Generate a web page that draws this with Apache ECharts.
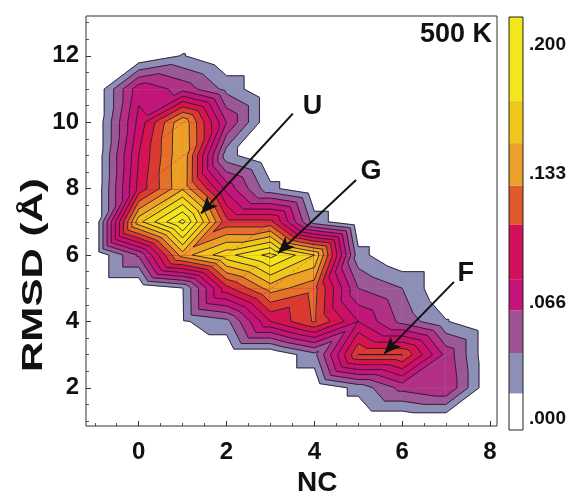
<!DOCTYPE html>
<html><head><meta charset="utf-8">
<script src="https://cdn.jsdelivr.net/npm/echarts@6/dist/echarts.min.js"></script>
<style>html,body{margin:0;padding:0;background:#fff}#c{width:569px;height:498px}</style>
</head><body><div id="c"></div>
<script>
// grid coordinates
const ncValues = [-1, 0, 1, 2, 3, 4, 5, 6, 7, 8];
const rmsdValues = [1, 2, 3, 4, 5, 6, 7, 8, 9, 10, 11, 12, 13];
// population density, one row per RMSD value, columns follow ncValues
const rmsd1  = [0, 0, 0, 0, 0, 0, 0, 0, 0, 0];
const rmsd2  = [0, 0, 0, 0, 0, 0, 0.02, 0.05, 0.06, 0];
const rmsd3  = [0, 0, 0, 0, 0, 0.025, 0.12, 0.12, 0.055, 0];
const rmsd4  = [0, 0, 0.013, 0.025, 0.09, 0.122, 0.075, 0.04, 0.016, 0];
const rmsd5  = [0, 0, 0.014, 0.10, 0.142, 0.125, 0.045, 0.03, 0, 0];
const rmsd6  = [0, 0.047, 0.143, 0.175, 0.20, 0.165, 0.02, 0, 0, 0];
const rmsd7  = [0, 0.16, 0.215, 0.11, 0.11, 0.022, 0, 0, 0, 0];
const rmsd8  = [0, 0.095, 0.148, 0.07, 0.019, 0, 0, 0, 0, 0];
const rmsd9  = [0, 0.09, 0.149, 0.02, 0, 0, 0, 0, 0, 0];
const rmsd10 = [0, 0.08, 0.148, 0.06, 0, 0, 0, 0, 0, 0];
const rmsd11 = [0, 0.07, 0.055, 0.025, 0, 0, 0, 0, 0, 0];
const rmsd12 = [0, 0, 0.016, 0, 0, 0, 0, 0, 0, 0];
const rmsd13 = [0, 0, 0, 0, 0, 0, 0, 0, 0, 0];
// contour levels and the fill colour above each level
const contourLevels = [0.015, 0.03, 0.045, 0.06, 0.075, 0.09, 0.105, 0.12, 0.135, 0.15, 0.165, 0.18, 0.195, 0.21];
const levelColors = ['#8d8fb7', '#9b5896', '#b22f86', '#c2157a', '#cd0f68', '#d5134f', '#dc3a31', '#e5702a', '#eca126', '#f1c61c', '#f2d81a', '#f3e41c', '#f4ea22', '#f6f036'];
// colour bar
const colorbarBounds = [0, 0.019, 0.040, 0.062, 0.078, 0.1065, 0.127, 0.149, 0.171, 0.2145];
const colorbarColors = ['#ffffff', '#8d8fb7', '#9e5394', '#c4147a', '#d20f5a', '#e05a2a', '#eaa02a', '#f0c81c', '#f3e61a'];
const colorbarTicks = [0, 0.066, 0.133, 0.200];
const colorbarTickLabels = ['.000', '.066', '.133', '.200'];
// axes ticks
const xTicks = [0, 2, 4, 6, 8];
const xMinorTicks = [-1, -0.5, 0.5, 1, 1.5, 2.5, 3, 3.5, 4.5, 5, 5.5, 6.5, 7, 7.5];
const yTicks = [2, 4, 6, 8, 10, 12];
const yMinorTicks = [1, 1.5, 2.5, 3, 3.5, 4.5, 5, 5.5, 6.5, 7, 7.5, 8.5, 9, 9.5, 10.5, 11, 11.5, 12.5, 13];
// annotations: [tailX, tailY, headX, headY], label positions
const arrows = [[3.51, 10.26, 1.42, 7.25], [4.95, 8.26, 3.17, 6.05], [7.18, 5.19, 5.59, 3.03]];
const arrowLabels = [[3.96, 10.47, 'U'], [5.29, 8.5, 'G'], [7.45, 5.45, 'F']];

const density = [rmsd1, rmsd2, rmsd3, rmsd4, rmsd5, rmsd6, rmsd7, rmsd8, rmsd9, rmsd10, rmsd11, rmsd12, rmsd13];

// triangles of the grid
const triangles = [];
for (let j = 0; j < rmsdValues.length - 1; j++) {
  for (let i = 0; i < ncValues.length - 1; i++) {
    triangles.push([i, j, 0]);
    triangles.push([i, j, 1]);
  }
}
function triCorners(i, j, t) {
  return t === 0 ? [[i, j], [i + 1, j], [i + 1, j + 1]] : [[i, j], [i + 1, j + 1], [i, j + 1]];
}
function clipAbove(pts, vals, L) {
  const out = [];
  for (let a = 0; a < pts.length; a++) {
    const b = (a + 1) % pts.length;
    const va = vals[a], vb = vals[b];
    if (va >= L) out.push(pts[a]);
    if ((va >= L) !== (vb >= L)) {
      const t = (L - va) / (vb - va);
      out.push([pts[a][0] + (pts[b][0] - pts[a][0]) * t, pts[a][1] + (pts[b][1] - pts[a][1]) * t]);
    }
  }
  return out;
}
function prep(params, api) {
  const i = api.value(0), j = api.value(1), t = api.value(2);
  const c = triCorners(i, j, t);
  const pts = c.map(p => api.coord([ncValues[p[0]], rmsdValues[p[1]]]));
  const vals = c.map(p => density[p[1]][p[0]]);
  return {pts, vals};
}
function renderFill(params, api) {
  const {pts, vals} = prep(params, api);
  const children = [];
  contourLevels.forEach((L, k) => {
    const poly = clipAbove(pts, vals, L);
    if (poly.length >= 3) {
      children.push({type: 'polygon', shape: {points: poly},
        style: {fill: levelColors[k], stroke: levelColors[k], lineWidth: 0.8}});
    }
  });
  return {type: 'group', children};
}
function renderLines(params, api) {
  const {pts, vals} = prep(params, api);
  const children = [];
  contourLevels.forEach((L) => {
    const seg = [];
    for (let a = 0; a < 3; a++) {
      const b = (a + 1) % 3;
      if ((vals[a] >= L) !== (vals[b] >= L)) {
        const t = (L - vals[a]) / (vals[b] - vals[a]);
        seg.push([pts[a][0] + (pts[b][0] - pts[a][0]) * t, pts[a][1] + (pts[b][1] - pts[a][1]) * t]);
      }
    }
    if (seg.length === 2) {
      children.push({type: 'line', shape: {x1: seg[0][0], y1: seg[0][1], x2: seg[1][0], y2: seg[1][1]},
        style: {stroke: '#2a1830', lineWidth: 0.9}});
    }
  });
  return {type: 'group', children};
}

const FONT = 'Liberation Sans';
const chart = echarts.init(document.getElementById('c'), null, {renderer: 'canvas'});

const colorbarSeries = colorbarColors.map((col, k) => ({
  type: 'bar', xAxisIndex: 1, yAxisIndex: 1, stack: 'cb', barWidth: '100%',
  data: [colorbarBounds[k + 1] - colorbarBounds[k]], itemStyle: {color: col}, silent: true, animation: false
}));

chart.setOption({
  animation: false,
  backgroundColor: '#fff',
  grid: [
    {left: 86, top: 16, width: 411, height: 410, show: true, z: 10, borderColor: '#333', borderWidth: 1, backgroundColor: 'transparent'},
    {left: 509, top: 17, width: 14, height: 413, show: true, z: 10, borderColor: '#222', borderWidth: 1, backgroundColor: 'transparent'}
  ],
  xAxis: [
    {type: 'value', gridIndex: 0, min: -1.2, max: 8.16, splitLine: {show: false},
     axisLine: {show: false, onZero: false},
     axisTick: {inside: true, length: 5, customValues: xTicks, lineStyle: {color: '#333'}},
     axisLabel: {customValues: xTicks, margin: 14, fontFamily: FONT, fontWeight: 'bold', fontSize: 24, color: '#111'}},
    {type: 'category', gridIndex: 1, data: ['c'], show: false},
    {type: 'value', gridIndex: 0, min: -1.2, max: 8.16, position: 'bottom', splitLine: {show: false},
     axisLine: {show: false, onZero: false}, axisLabel: {show: false},
     axisTick: {inside: true, length: 3, customValues: xMinorTicks, lineStyle: {color: '#555'}}}
  ],
  yAxis: [
    {type: 'value', gridIndex: 0, min: 0.85, max: 13.2, splitLine: {show: false},
     axisLine: {show: false, onZero: false},
     axisTick: {inside: true, length: 5, customValues: yTicks, lineStyle: {color: '#333'}},
     axisLabel: {customValues: yTicks, margin: 7, fontFamily: FONT, fontWeight: 'bold', fontSize: 24, color: '#111'}},
    {type: 'value', gridIndex: 1, min: 0, max: 0.2145, position: 'right', splitLine: {show: false},
     axisLine: {show: false, onZero: false}, axisTick: {show: false},
     axisLabel: {customValues: colorbarTicks, margin: 6, fontFamily: FONT, fontWeight: 'bold', fontSize: 19, color: '#111',
       formatter: (v) => {
         const idx = colorbarTicks.findIndex(t => Math.abs(t - v) < 1e-6);
         if (idx < 0) return '';
         return idx === 0 ? '{lo|' + colorbarTickLabels[idx] + '}' : colorbarTickLabels[idx];
       },
       rich: {lo: {fontFamily: FONT, fontWeight: 'bold', fontSize: 19, color: '#111', padding: [0, 0, 22, 0]}}}},
    {type: 'value', gridIndex: 0, min: 0.85, max: 13.2, position: 'left', splitLine: {show: false},
     axisLine: {show: false, onZero: false}, axisLabel: {show: false},
     axisTick: {inside: true, length: 3, customValues: yMinorTicks, lineStyle: {color: '#555'}}}
  ],
  graphic: [
    {type: 'text', right: 77, top: 21, style: {text: '500 K', font: 'bold 27px "Liberation Sans"', fill: '#111'}},
    {type: 'text', left: 297, top: 469, style: {text: 'NC', font: 'bold 28px "Liberation Sans"', fill: '#111'}},
    {type: 'text', x: 19, y: 372, rotation: Math.PI / 2, scaleX: 1.45, style: {text: 'RMSD (Å)', font: 'bold 29px "Liberation Sans"', fill: '#111'}}
  ],
  series: [
    {type: 'custom', xAxisIndex: 0, yAxisIndex: 0, data: triangles, renderItem: renderFill, silent: true, z: 1},
    {type: 'custom', xAxisIndex: 0, yAxisIndex: 0, data: triangles, renderItem: renderLines, silent: true, z: 2},
    {type: 'scatter', xAxisIndex: 0, yAxisIndex: 0, z: 5, symbolSize: 2, itemStyle: {color: 'rgba(0,0,0,0)'},
     data: arrowLabels.map(a => ({value: [a[0], a[1]], name: a[2]})),
     label: {show: true, position: 'inside', formatter: p => p.name, fontFamily: FONT, fontWeight: 'bold', fontSize: 27,
       color: '#111', opacity: 1, textBorderWidth: 0},
     markLine: {silent: true, symbol: ['none', 'arrow'], symbolSize: [11, 17], animation: false,
       lineStyle: {color: '#111', width: 2, type: 'solid'}, label: {show: false},
       data: arrows.map(a => [{coord: [a[0], a[1]]}, {coord: [a[2], a[3]]}])}},
    ...colorbarSeries
  ]
});
</script></body></html>
